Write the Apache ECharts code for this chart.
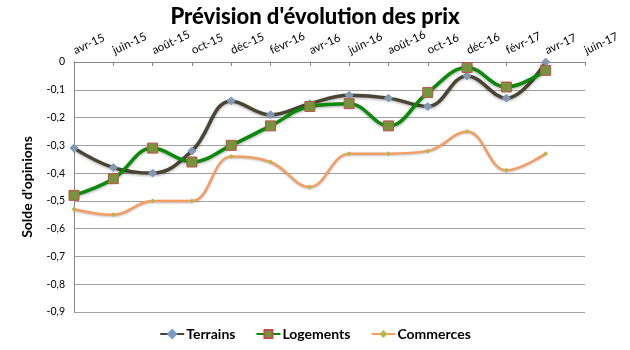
<!DOCTYPE html>
<html><head><meta charset="utf-8">
<script src="https://cdn.jsdelivr.net/npm/echarts@6/dist/echarts.min.js"></script>
<style>html,body{margin:0;padding:0;background:#fff}#c{width:630px;height:350px}</style>
</head><body><div id="c"></div>
<script>
var categories = ['avr-15','juin-15','août-15','oct-15','déc-15','févr-16','avr-16','juin-16','août-16','oct-16','déc-16','févr-17','avr-17','juin-17'];
var terrains  = [-0.31,-0.38,-0.40,-0.32,-0.14,-0.19,-0.15,-0.12,-0.13,-0.16,-0.05,-0.13,0.00,null];
var logements = [-0.48,-0.42,-0.31,-0.36,-0.30,-0.23,-0.16,-0.15,-0.23,-0.11,-0.02,-0.09,-0.03,null];
var commerces = [-0.53,-0.55,-0.50,-0.50,-0.34,-0.36,-0.45,-0.33,-0.33,-0.32,-0.25,-0.39,-0.33,null];
var FONT = 'Lato, "Open Sans", sans-serif';
var chart = echarts.init(document.getElementById('c'));
chart.setOption({
  animation: false,
  title: {text: "Prévision d'évolution des prix", left: 'center', top: 1,
    textStyle: {fontFamily: FONT, fontSize: 22, fontWeight: 900, color: '#000'}},
  grid: {left: 74, right: 45, top: 62, bottom: 38},
  legend: {bottom: 4, left: 'center', itemWidth: 24, itemHeight: 10, itemGap: 20,
    textStyle: {fontFamily: FONT, fontSize: 14, fontWeight: 'bold', color: '#000', padding: [0,0,0,-3]},
    data: ['Terrains','Logements','Commerces']},
  xAxis: {type: 'category', position: 'top', boundaryGap: false, data: categories,
    axisLine: {lineStyle: {color: '#868686'}},
    axisTick: {inside: true, length: 4, lineStyle: {color: '#868686'}},
    axisLabel: {rotate: 25, fontFamily: FONT, fontSize: 11.5, color: '#000', margin: 11}},
  yAxis: {type: 'value', min: -0.9, max: 0, interval: 0.1,
    name: "Solde d'opinions", nameLocation: 'middle', nameGap: 40, nameRotate: 90,
    nameTextStyle: {fontFamily: FONT, fontSize: 14, fontWeight: 'bold', color: '#000'},
    axisLine: {show: true, lineStyle: {color: '#868686'}},
    axisTick: {show: false},
    splitLine: {lineStyle: {color: '#a0a0a0'}},
    axisLabel: {fontFamily: FONT, fontSize: 10.5, color: '#000', margin: 9,
      formatter: function(v){ var r = Math.round(v*10)/10; return r === 0 ? '0' : r.toFixed(1).replace('.', ','); }}},
  series: [
    {name: 'Terrains', type: 'line', data: terrains, smooth: 0.4,
      symbol: 'diamond', symbolSize: 8,
      lineStyle: {color: '#4a4533', width: 3.5, shadowColor: 'rgba(0,0,0,0.35)', shadowBlur: 3, shadowOffsetY: 1},
      itemStyle: {color: '#8b97a3', borderColor: '#6f9fd8', borderWidth: 1}},
    {name: 'Logements', type: 'line', data: logements, smooth: 0.4,
      symbol: 'rect', symbolSize: 10,
      lineStyle: {color: '#0a8a0a', width: 3.5, shadowColor: 'rgba(0,0,0,0.35)', shadowBlur: 3, shadowOffsetY: 1},
      itemStyle: {color: '#77933c', borderColor: '#c0504d', borderWidth: 1}},
    {name: 'Commerces', type: 'line', data: commerces, smooth: 0.4,
      symbol: 'diamond', symbolSize: 5,
      lineStyle: {color: '#f59d62', width: 2.5, shadowColor: 'rgba(0,0,0,0.25)', shadowBlur: 2, shadowOffsetY: 1},
      itemStyle: {color: '#b5b84a', borderWidth: 0}}
  ]
});
</script></body></html>
